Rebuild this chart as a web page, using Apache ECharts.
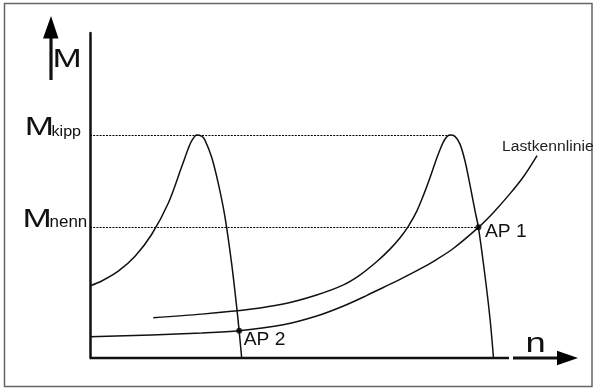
<!DOCTYPE html>
<html><head><meta charset="utf-8">
<script src="https://cdn.jsdelivr.net/npm/echarts@6/dist/echarts.min.js"></script>
<style>html,body{margin:0;padding:0;background:#fff}#c{width:596px;height:391px}</style>
</head><body><div id="c"></div>
<script>
// Motor characteristic (low frequency), [n, M]
const motorCurve1 = [[0,22.2],[2.8,23.7],[6.75,26.7],[10.7,31.2],[14.7,38.0],[18.7,47.7],[21.9,58.9],[23.5,64.6],[24.3,66.9],[25.5,68.6],[26.7,68.2],[27.4,67.1],[29.0,61.9],[30.6,53.8],[32.2,43.5],[33.8,29.1],[35.0,15.8],[35.6,8.3],[36.2,0]];
// Motor characteristic (nominal frequency)
const motorCurve2 = [[15.1,12.4],[26.7,13.5],[38.2,15.0],[46.1,16.6],[54.1,19.4],[60.5,22.5],[64.4,25.5],[68.4,29.6],[71.6,33.5],[74.0,37.0],[76.0,40.6],[78.0,45.2],[79.5,49.8],[81.1,55.3],[82.6,60.9],[83.5,64.0],[84.7,67.3],[85.9,68.6],[87.1,68.2],[88.3,65.8],[89.5,60.6],[90.7,53.2],[91.9,45.2],[92.7,40.2],[94.3,25.0],[95.5,11.7],[96.3,0]];
// Lastkennlinie
const loadCurve = [[0,6.55],[14.7,7.1],[26.7,7.7],[35.6,8.4],[46.1,10.2],[54.1,12.9],[60.5,16.0],[66.0,19.2],[70.0,21.7],[74.0,24.2],[78.8,27.4],[82.7,30.3],[86.7,33.7],[92.7,40.2],[96.3,44.8],[100.2,50.5],[103.4,55.7],[106.7,62.3]];
// Operating points AP 1, AP 2
const apPoints = [[92.7,40.2],[35.6,8.4]];
const apLabels = ['AP 1','AP 2'];
// Reference torque levels
const M_KIPP = 68.6, M_NENN = 40.2;
const kippEndN = 85.9, nennEndN = 92.7;
const xMax = 120, yMax = 100, xAxisEnd = 100;

const chart = echarts.init(document.getElementById('c'), null, {renderer:'canvas'});
const lineStyle = {color:'#111', width:1.5};
const common = {type:'line', smooth:0.3, symbol:'none', lineStyle, z:3};
chart.setOption({
  animation:false,
  backgroundColor:'#fff',
  grid:{left:90, right:3.2, top:33, bottom:33},
  xAxis:{type:'value', min:0, max:xMax, axisLine:{show:false}, axisTick:{show:false}, axisLabel:{show:false}, splitLine:{show:false}},
  yAxis:{type:'value', min:0, max:yMax, axisLine:{show:true, lineStyle:{color:'#111', width:2.5}}, axisTick:{show:false}, axisLabel:{show:false}, splitLine:{show:false}},
  series:[
    Object.assign({}, common, {data:motorCurve1,
     markLine:{silent:true, symbol:'none', label:{show:false}, lineStyle:{color:'#000', width:1, type:[2,1.2]},
       data:[[{coord:[0,M_KIPP]},{coord:[kippEndN,M_KIPP]}],[{coord:[0,M_NENN]},{coord:[nennEndN,M_NENN]}]]}}),
    Object.assign({}, common, {data:motorCurve2}),
    Object.assign({}, common, {data:loadCurve}),
    {type:'scatter', data:apPoints, symbol:'circle', symbolSize:6, itemStyle:{color:'#000'}, z:5}
  ]
});

function px(p){ return chart.convertToPixel({gridIndex:0}, p); }
const FF = '"Liberation Sans", Arial, Helvetica, sans-serif';
function txt(str, left, baseline, size, sx, color){
  return {type:'text', x:left, y:baseline - 0.3465*size, scaleX:sx, z:100,
    style:{text:str, fontSize:size, fontFamily:FF, fill:color||'#111', textAlign:'left', textVerticalAlign:'middle', align:'left', verticalAlign:'middle'}};
}
const o = px([0,0]);
const xEnd = px([xAxisEnd,0]);
const kipp = px([0,M_KIPP]);
const nenn = px([0,M_NENN]);
const ap1 = px(apPoints[0]);
const ap2 = px(apPoints[1]);
const lastEnd = px(loadCurve[loadCurve.length-1]);
const g = [];
// frame
g.push({type:'rect', shape:{x:4.5, y:3.5, width:587.5, height:383}, style:{fill:'none', stroke:'#666', lineWidth:1.5}, z:0});
// x axis line (with gap before arrow)
g.push({type:'line', shape:{x1:o[0], y1:o[1], x2:xEnd[0], y2:xEnd[1]}, style:{stroke:'#111', lineWidth:2.5}, z:10});
// x arrow
g.push({type:'line', shape:{x1:xEnd[0]+4, y1:o[1], x2:xEnd[0]+49, y2:o[1]}, style:{stroke:'#111', lineWidth:3}, z:10});
g.push({type:'polygon', shape:{points:[[xEnd[0]+48,o[1]-7.3],[xEnd[0]+69,o[1]],[xEnd[0]+48,o[1]+7.3]]}, style:{fill:'#000'}, z:10});
// y arrow
g.push({type:'line', shape:{x1:51, y1:80, x2:51, y2:36}, style:{stroke:'#111', lineWidth:3.2}, z:10});
g.push({type:'polygon', shape:{points:[[43,38.5],[51,16],[58.5,38.5]]}, style:{fill:'#000'}, z:10});
// labels
g.push(txt('M', 52.4, 69, 26, 1.35));
g.push(txt('n', 525.6, 354.3, 28, 1.3));
g.push(txt('M', kipp[0]-65.3, kipp[1]+1.7, 26, 1.35));
g.push(txt('kipp', kipp[0]-38.5, kipp[1]+1.7, 14, 1.15));
g.push(txt('M', nenn[0]-67.6, nenn[1]+1.3, 26, 1.35));
g.push(txt('nenn', nenn[0]-40.5, nenn[1]+1.3, 17, 1.0));
g.push(txt(apLabels[0], ap1[0]+6.5, ap1[1]+11, 17.5, 1.1));
g.push(txt(apLabels[1], ap2[0]+4.5, ap2[1]+16, 17.5, 1.1));
g.push(txt('Lastkennlinie', lastEnd[0]-35, lastEnd[1]-3.5, 14, 1.12, '#222'));
chart.setOption({graphic:g});
</script></body></html>
